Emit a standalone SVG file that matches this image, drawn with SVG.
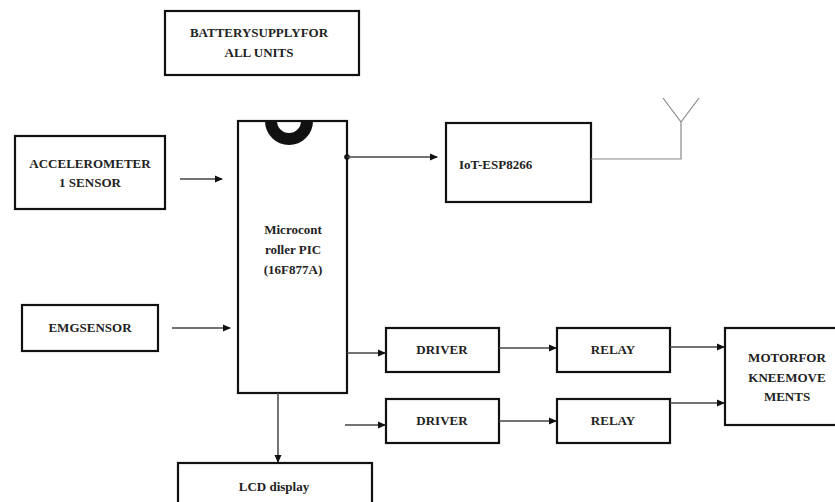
<svg xmlns="http://www.w3.org/2000/svg" width="835" height="502" viewBox="0 0 835 502">
<style>
.box{fill:#fff;stroke:#111;stroke-width:2.2}
.t{font-family:'Liberation Serif','DejaVu Serif','Times New Roman',serif;font-weight:bold;font-size:13px;fill:#222;text-anchor:middle}
.c{stroke:#444;stroke-width:1.5;fill:none}
.ant{stroke:#888;stroke-width:1.2;fill:none}
</style>
<defs>
<marker id="ah" markerWidth="8" markerHeight="8" refX="7" refY="4" orient="auto" markerUnits="userSpaceOnUse">
<path d="M0,0.5 L8,4 L0,7.5 Z" fill="#111"/>
</marker>
</defs>
<rect width="835" height="502" fill="#fff"/>
<g id="battery">
<rect class="box" x="165" y="11" width="194" height="64"/>
<text class="t" x="259" y="37">BATTERYSUPPLYFOR</text>
<text class="t" x="259" y="57">ALL UNITS</text>
</g>
<g id="accelerometer">
<rect class="box" x="15" y="136" width="150" height="73"/>
<text class="t" x="90" y="168">ACCELEROMETER</text>
<text class="t" x="90" y="187">1 SENSOR</text>
</g>
<g id="emg">
<rect class="box" x="22" y="305" width="136" height="46"/>
<text class="t" x="90" y="332">EMGSENSOR</text>
</g>
<g id="mcu">
<rect class="box" x="238" y="121" width="109" height="272"/>
<path d="M265,121 A24,24 0 0 0 313,121 L301,121 A12,12 0 0 1 277,121 Z" fill="#111"/>
<text class="t" x="293" y="234">Microcont</text>
<text class="t" x="293" y="254">roller PIC</text>
<text class="t" x="293" y="274">(16F877A)</text>
</g>
<g id="iot">
<rect class="box" x="446" y="123" width="145" height="79"/>
<text class="t" x="459" y="169" style="text-anchor:start">IoT-ESP8266</text>
</g>
<g id="antenna">
<path class="ant" d="M591,159 L681,159 L681,122 M681,122 L663,98 M681,122 L699,98"/>
</g>
<g id="driver1">
<rect class="box" x="386" y="328" width="113" height="44"/>
<text class="t" x="442" y="354">DRIVER</text>
</g>
<g id="driver2">
<rect class="box" x="386" y="399" width="113" height="44"/>
<text class="t" x="442" y="425">DRIVER</text>
</g>
<g id="relay1">
<rect class="box" x="557" y="328" width="113" height="44"/>
<text class="t" x="613" y="354">RELAY</text>
</g>
<g id="relay2">
<rect class="box" x="557" y="399" width="113" height="44"/>
<text class="t" x="613" y="425">RELAY</text>
</g>
<g id="motor">
<rect class="box" x="725" y="328" width="112" height="97"/>
<text class="t" x="787" y="362">MOTORFOR</text>
<text class="t" x="787" y="382">KNEEMOVE</text>
<text class="t" x="787" y="401">MENTS</text>
</g>
<g id="lcd">
<rect class="box" x="178" y="463" width="194" height="45"/>
<text class="t" x="274" y="491">LCD display</text>
</g>
<g id="connectors">
<line class="c" x1="180" y1="179" x2="222" y2="179" marker-end="url(#ah)"/>
<line class="c" x1="172" y1="328" x2="230" y2="328" marker-end="url(#ah)"/>
<circle cx="347" cy="157" r="2.8" fill="#111"/>
<line class="c" x1="347" y1="157" x2="437" y2="157" marker-end="url(#ah)"/>
<line class="c" x1="347" y1="353" x2="385" y2="353" marker-end="url(#ah)"/>
<line class="c" x1="345" y1="425" x2="385" y2="425" marker-end="url(#ah)"/>
<line class="c" x1="499" y1="348" x2="556" y2="348" marker-end="url(#ah)"/>
<line class="c" x1="499" y1="421" x2="556" y2="421" marker-end="url(#ah)"/>
<line class="c" x1="670" y1="347" x2="724" y2="347" marker-end="url(#ah)"/>
<line class="c" x1="670" y1="403" x2="724" y2="403" marker-end="url(#ah)"/>
<line class="c" x1="278" y1="393" x2="278" y2="462" marker-end="url(#ah)"/>
</g>
</svg>
